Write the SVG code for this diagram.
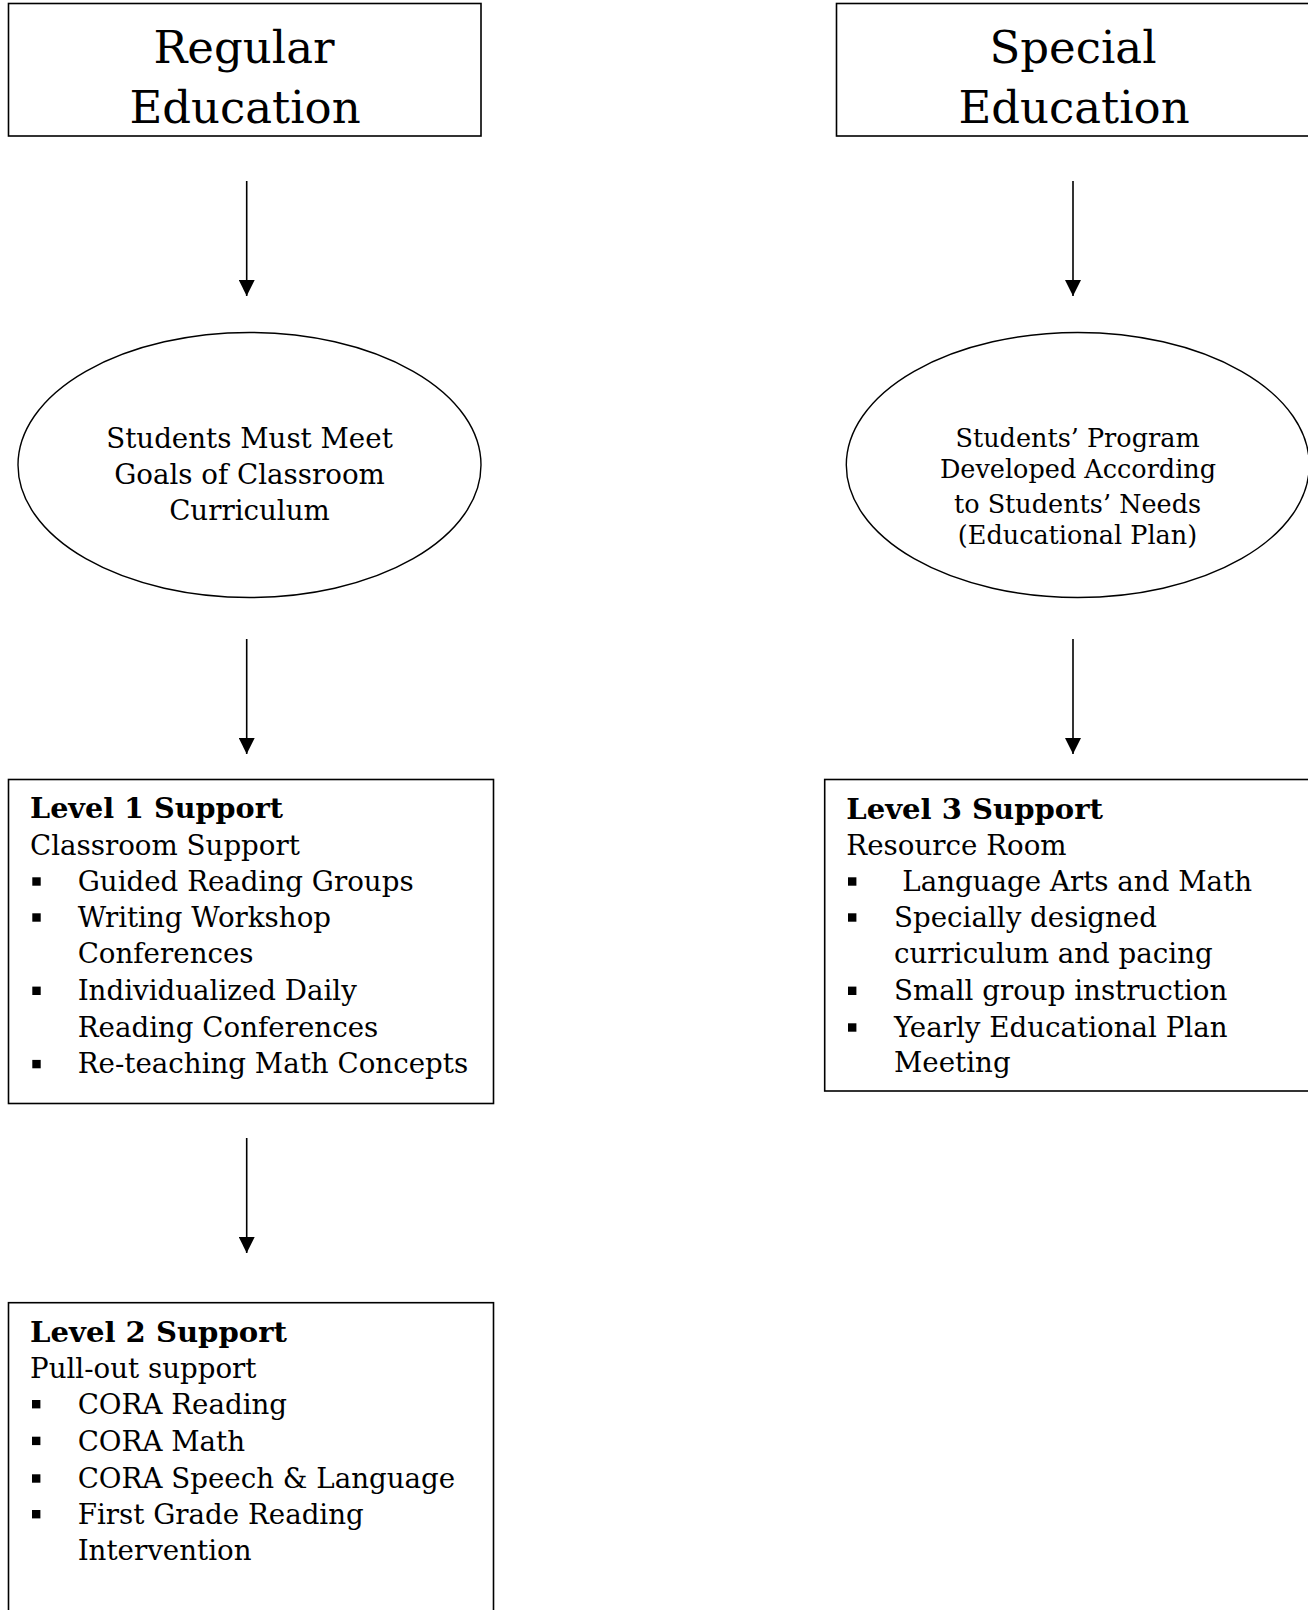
<svg xmlns="http://www.w3.org/2000/svg" width="1308" height="1610" viewBox="0 0 1308 1610">
<style>
  .box { fill: #ffffff; stroke: #000000; stroke-width: 1.6; }
  .oval { fill: #ffffff; stroke: #000000; stroke-width: 1.4; }
  .t { font-family: "DejaVu Serif", "Liberation Serif", serif; fill: #000000; }
  .h { font-size: 45px; text-anchor: middle; }
  .o1 { font-size: 27.7px; text-anchor: middle; }
  .o2 { font-size: 25.5px; text-anchor: middle; }
  .b { font-size: 27.7px; }
  .bb { font-size: 27.7px; font-weight: bold; }
  .bul { fill: #000000; }
  .conn { stroke: #000000; stroke-width: 1.6; fill: none; marker-end: url(#arr); }
</style>
<defs>
  <marker id="arr" markerUnits="userSpaceOnUse" markerWidth="16" markerHeight="16" viewBox="0 0 16 16" refX="16" refY="8" orient="auto">
    <path d="M0,0 L16,8 L0,16 Z" fill="#000000"/>
  </marker>
</defs>
<rect width="1308" height="1610" fill="#ffffff"/>

<g id="connectors">
  <line class="conn" x1="246.7" y1="181" x2="246.7" y2="296"/>
  <line class="conn" x1="1073" y1="181" x2="1073" y2="296"/>
  <line class="conn" x1="246.7" y1="639" x2="246.7" y2="754"/>
  <line class="conn" x1="1073" y1="639" x2="1073" y2="754"/>
  <line class="conn" x1="246.7" y1="1138" x2="246.7" y2="1253"/>
</g>

<g id="regular-education">
  <rect class="box" x="8.5" y="3.5" width="472.5" height="132.5"/>
  <text class="t h" x="244" y="63">Regular</text>
  <text class="t h" x="245" y="123">Education</text>
</g>

<g id="special-education">
  <rect class="box" x="836.5" y="3.5" width="490" height="132.5"/>
  <text class="t h" x="1073" y="63">Special</text>
  <text class="t h" x="1074" y="123">Education</text>
</g>

<g id="goals">
  <ellipse class="oval" cx="249.5" cy="465" rx="231.5" ry="132.5"/>
  <text class="t o1" x="249.5" y="448.3">Students Must Meet</text>
  <text class="t o1" x="249.5" y="483.5">Goals of Classroom</text>
  <text class="t o1" x="249.5" y="520">Curriculum</text>
</g>

<g id="program">
  <ellipse class="oval" cx="1077.8" cy="465" rx="231.5" ry="132.5"/>
  <text class="t o2" x="1077.5" y="446.7">Students’ Program</text>
  <text class="t o2" x="1078" y="478.3">Developed According</text>
  <text class="t o2" x="1077.5" y="512.7">to Students’ Needs</text>
  <text class="t o2" x="1077.5" y="544">(Educational Plan)</text>
</g>

<g id="level1">
  <rect class="box" x="8.5" y="779.5" width="485" height="324"/>
  <text class="t bb" x="30" y="818.3" textLength="253" lengthAdjust="spacingAndGlyphs">Level 1 Support</text>
  <text class="t b" x="30" y="855">Classroom Support</text>
  <rect class="bul" x="32.3" y="877.3" width="8.4" height="8.4"/>
  <text class="t b" x="77.7" y="890.7">Guided Reading Groups</text>
  <rect class="bul" x="32.3" y="913.3" width="8.4" height="8.4"/>
  <text class="t b" x="77.7" y="926.7">Writing Workshop</text>
  <text class="t b" x="77.7" y="963.3">Conferences</text>
  <rect class="bul" x="32.3" y="986.6" width="8.4" height="8.4"/>
  <text class="t b" x="77.7" y="1000">Individualized Daily</text>
  <text class="t b" x="77.7" y="1036.7">Reading Conferences</text>
  <rect class="bul" x="32.3" y="1059.9" width="8.4" height="8.4"/>
  <text class="t b" x="77.7" y="1073.3">Re-teaching Math Concepts</text>
</g>

<g id="level2">
  <rect class="box" x="8.5" y="1302.7" width="485" height="340"/>
  <text class="t bb" x="30" y="1341.7" textLength="257" lengthAdjust="spacingAndGlyphs">Level 2 Support</text>
  <text class="t b" x="30" y="1378.3">Pull-out support</text>
  <rect class="bul" x="32" y="1400" width="8.4" height="8.4"/>
  <text class="t b" x="77.7" y="1414">CORA Reading</text>
  <rect class="bul" x="32" y="1436.7" width="8.4" height="8.4"/>
  <text class="t b" x="77.7" y="1450.7">CORA Math</text>
  <rect class="bul" x="32" y="1474.3" width="8.4" height="8.4"/>
  <text class="t b" x="77.7" y="1488.3">CORA Speech &amp; Language</text>
  <rect class="bul" x="32" y="1510" width="8.4" height="8.4"/>
  <text class="t b" x="77.7" y="1524">First Grade Reading</text>
  <text class="t b" x="77.7" y="1560">Intervention</text>
</g>

<g id="level3">
  <rect class="box" x="824.7" y="779.5" width="500" height="311.5"/>
  <text class="t bb" x="846.3" y="819.3" textLength="256.7" lengthAdjust="spacingAndGlyphs">Level 3 Support</text>
  <text class="t b" x="846.3" y="855">Resource Room</text>
  <rect class="bul" x="848" y="877.3" width="8.4" height="8.4"/>
  <text class="t b" x="902.3" y="890.7">Language Arts and Math</text>
  <rect class="bul" x="848" y="913.3" width="8.4" height="8.4"/>
  <text class="t b" x="894" y="926.7">Specially designed</text>
  <text class="t b" x="894" y="962.7">curriculum and pacing</text>
  <rect class="bul" x="848" y="986.6" width="8.4" height="8.4"/>
  <text class="t b" x="894" y="1000">Small group instruction</text>
  <rect class="bul" x="848" y="1023.3" width="8.4" height="8.4"/>
  <text class="t b" x="894" y="1036.7">Yearly Educational Plan</text>
  <text class="t b" x="894" y="1071.7">Meeting</text>
</g>
</svg>
